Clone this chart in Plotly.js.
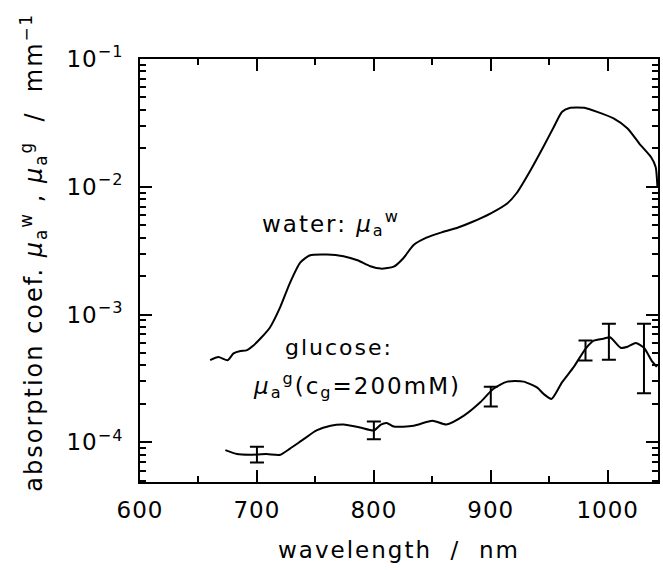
<!DOCTYPE html>
<html>
<head>
<meta charset="utf-8">
<script src="https://cdn.plot.ly/plotly-3.0.1.min.js"></script>
<style>
  html, body { margin: 0; padding: 0; background: #fff; }
  #chart { width: 663px; height: 570px; }
  #chart .annotation-text, #chart .xtitle { letter-spacing: 2px; }
  #chart .xtick text, #chart .ytick text { letter-spacing: 1px; }
</style>
</head>
<body>
<div id="chart"></div>
<script>
// water absorption coefficient (mm^-1) vs wavelength (nm)
const waterWavelength = [660, 667, 675, 680, 686, 691, 697, 703, 711, 720, 728, 737, 745, 760, 774, 786, 797, 806, 817, 825, 834, 845, 858, 872, 884, 900, 914, 922, 934, 945, 954, 961, 968, 980, 991, 1005, 1017, 1027, 1037, 1041, 1042.5];
const waterMu = [4.4e-4, 4.65e-4, 4.4e-4, 4.97e-4, 5.2e-4, 5.25e-4, 5.74e-4, 6.5e-4, 7.9e-4, 1.15e-3, 1.75e-3, 2.55e-3, 2.9e-3, 2.95e-3, 2.86e-3, 2.66e-3, 2.39e-3, 2.29e-3, 2.37e-3, 2.75e-3, 3.5e-3, 4.0e-3, 4.4e-3, 4.8e-3, 5.3e-3, 6.2e-3, 7.4e-3, 8.9e-3, 1.35e-2, 2.06e-2, 2.95e-2, 3.86e-2, 4.15e-2, 4.15e-2, 3.86e-2, 3.43e-2, 2.86e-2, 2.18e-2, 1.71e-2, 1.43e-2, 1.0e-2];

// glucose (200 mM) absorption coefficient
const glucoseWavelength = [673, 683, 694, 708, 720, 728, 740, 751, 763, 774, 788, 800, 806, 811, 817, 834, 850, 862, 877, 891, 902, 914, 928, 940, 945, 952, 961, 971, 981, 988, 997, 1002, 1011, 1017, 1024, 1031, 1038, 1042];
const glucoseMu = [8.7e-5, 8.1e-5, 8.0e-5, 8.1e-5, 8.0e-5, 8.9e-5, 1.06e-4, 1.24e-4, 1.35e-4, 1.38e-4, 1.31e-4, 1.24e-4, 1.38e-4, 1.42e-4, 1.33e-4, 1.35e-4, 1.48e-4, 1.38e-4, 1.62e-4, 2.06e-4, 2.62e-4, 2.99e-4, 2.99e-4, 2.67e-4, 2.4e-4, 2.19e-4, 2.96e-4, 3.9e-4, 5.4e-4, 6.25e-4, 6.5e-4, 6.65e-4, 5.5e-4, 5.6e-4, 6.0e-4, 5.5e-4, 4.3e-4, 3.9e-4];

// error bars on glucose
const errWavelength = [700, 800, 900, 981, 1001, 1031];
const errCenter = [8.1e-5, 1.26e-4, 2.32e-4, 5.33e-4, 6.46e-4, 5.46e-4];
const errSize = [1.15e-5, 2.0e-5, 4.1e-5, 9.5e-5, 2.03e-4, 3.03e-4];

// axis ticks
const xTickVals = [600, 700, 800, 900, 1000];
const xTickText = ['600', '700', '800', '900', '1000'];
const yTickVals = [1e-4, 1e-3, 1e-2, 1e-1];
const yTickText = ['10<sup>\u22124</sup>', '10<sup>\u22123</sup>', '10<sup>\u22122</sup>', '10<sup>\u22121</sup>'];

const FONT = 'DejaVu Sans, Liberation Sans, sans-serif';

const yMinor = [];
for (let e = -5; e <= -2; e++) {
  for (let d = 2; d <= 9; d++) yMinor.push(d * Math.pow(10, e));
}

const traces = [
  {
    x: waterWavelength, y: waterMu, type: 'scatter', mode: 'lines',
    line: {color: '#000', width: 2, shape: 'spline', smoothing: 0.6},
    hoverinfo: 'skip', showlegend: false
  },
  {
    x: glucoseWavelength, y: glucoseMu, type: 'scatter', mode: 'lines',
    line: {color: '#000', width: 2, shape: 'spline', smoothing: 0.6},
    hoverinfo: 'skip', showlegend: false
  },
  {
    x: errWavelength, y: errCenter, type: 'scatter', mode: 'markers',
    marker: {size: 1, color: 'rgba(0,0,0,0)'},
    error_y: {type: 'data', array: errSize, visible: true, color: '#000', thickness: 2, width: 7},
    hoverinfo: 'skip', showlegend: false
  }
];

const layout = {
  width: 663, height: 570,
  margin: {l: 140, r: 5, t: 59, b: 88},
  paper_bgcolor: '#fff', plot_bgcolor: '#fff',
  font: {family: FONT, size: 23, color: '#000'},
  showlegend: false,
  xaxis: {
    range: [600, 1043],
    tickmode: 'array', tickvals: xTickVals, ticktext: xTickText,
    ticks: 'inside', ticklen: 12, tickwidth: 2, tickcolor: '#000',
    minor: {dtick: 50, tick0: 600, ticks: 'inside', ticklen: 6, tickwidth: 2, tickcolor: '#000'},
    showline: true, linewidth: 2, linecolor: '#000', mirror: 'allticks',
    showgrid: false, zeroline: false,
    ticklabelstandoff: 6,
    tickfont: {family: FONT, size: 23},
    title: {text: 'wavelength  /  nm', font: {family: FONT, size: 23}, standoff: 20}
  },
  yaxis: {
    type: 'log',
    range: [Math.log10(4.9e-5), -1],
    tickmode: 'array', tickvals: yTickVals, ticktext: yTickText,
    ticks: 'inside', ticklen: 12, tickwidth: 2, tickcolor: '#000',
    minor: {tickmode: 'array', tickvals: yMinor, ticks: 'inside', ticklen: 6, tickwidth: 2, tickcolor: '#000'},
    showline: true, linewidth: 2, linecolor: '#000', mirror: 'allticks',
    showgrid: false, zeroline: false,
    ticklabelstandoff: 10,
    tickfont: {family: FONT, size: 23}
  },
  annotations: [
    {
      xref: 'paper', yref: 'paper', x: -0.205, y: 0.544,
      xanchor: 'center', yanchor: 'middle', textangle: -90, showarrow: false,
      text: 'absorption coef. <i>\u03BC</i><sub>a</sub><sup>w</sup> , <i>\u03BC</i><sub>a</sub><sup>g</sup>  /  mm<sup>\u22121</sup>',
      font: {family: FONT, size: 24, color: '#000'}
    },
    {
      xref: 'x', yref: 'paper', x: 711, y: (482 - 223) / 423,
      xanchor: 'left', yanchor: 'middle', showarrow: false,
      text: 'water: <i>\u03BC</i><sub>a</sub><sup>w</sup>',
      font: {family: FONT, size: 23, color: '#000'}
    },
    {
      xref: 'x', yref: 'paper', x: 729, y: (482 - 347) / 423,
      xanchor: 'left', yanchor: 'middle', showarrow: false,
      text: 'glucose:',
      font: {family: FONT, size: 22, color: '#000'}
    },
    {
      xref: 'x', yref: 'paper', x: 706, y: (482 - 385) / 423,
      xanchor: 'left', yanchor: 'middle', showarrow: false,
      text: '<i>\u03BC</i><sub>a</sub><sup>g</sup>(c<sub>g</sub>=200mM)',
      font: {family: FONT, size: 23, color: '#000'}
    }
  ]
};

Plotly.newPlot('chart', traces, layout, {displayModeBar: false, staticPlot: true});
</script>
</body>
</html>
